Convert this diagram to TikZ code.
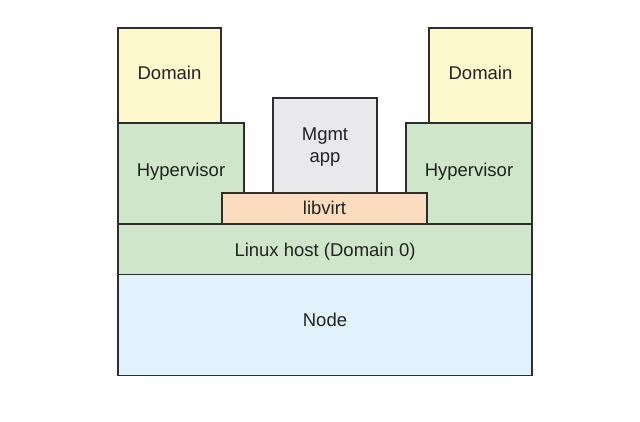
\documentclass[tikz,border=0pt]{standalone}
\usepackage{fontspec}
\setmainfont{Liberation Sans}
\definecolor{edge}{HTML}{2E2E2E}
\definecolor{domfill}{HTML}{FEF8CD}
\definecolor{hypfill}{HTML}{CFE6CA}
\definecolor{mgmtfill}{HTML}{E9E9EB}
\definecolor{virtfill}{HTML}{FCDCBF}
\definecolor{nodefill}{HTML}{E1F2FC}
\definecolor{txt}{HTML}{222222}
\begin{document}
\begin{tikzpicture}[x=1pt,y=-1pt,
  box/.style={draw=edge,line width=1.2pt,inner sep=0pt,outer sep=0pt},
  lbl/.style={anchor=base,inner sep=0pt,font=\fontsize{18.5}{22}\selectfont,text=txt}]
\useasboundingbox (0,0) rectangle (640,422);
\fill[white] (0,0) rectangle (640,422);
% boxes
\node[box,fill=domfill,minimum width=103pt,minimum height=95pt] (domL) at (169.5,75.5) {};
\node[box,fill=domfill,minimum width=103pt,minimum height=95pt] (domR) at (480.5,75.5) {};
\node[box,fill=hypfill,minimum width=126pt,minimum height=101pt] (hypL) at (181,173.5) {};
\node[box,fill=hypfill,minimum width=126pt,minimum height=101pt] (hypR) at (469,173.5) {};
\node[box,fill=mgmtfill,minimum width=104pt,minimum height=95pt] (mgmt) at (325,145.5) {};
\node[box,fill=virtfill,minimum width=205pt,minimum height=31pt] (virt) at (324.5,208.5) {};
\node[box,fill=hypfill,minimum width=414pt,minimum height=51pt] (linux) at (325,249.5) {};
\node[box,fill=nodefill,minimum width=414pt,minimum height=101pt] (hw) at (325,325) {};
% labels
\node[lbl] (tDomL) at (169.5,80) {Domain};
\node[lbl] (tDomR) at (480.5,80) {Domain};
\node[lbl] (tHypL) at (181,177) {Hypervisor};
\node[lbl] (tHypR) at (469,177) {Hypervisor};
\node[lbl] (tMgmt1) at (325,141) {Mgmt};
\node[lbl] (tMgmt2) at (325,163) {app};
\node[lbl] (tVirt) at (324.5,215) {libvirt};
\node[lbl] (tLinux) at (325,257) {Linux host (Domain 0)};
\node[lbl] (tHw) at (325,326) {Node};
\end{tikzpicture}
\end{document}
